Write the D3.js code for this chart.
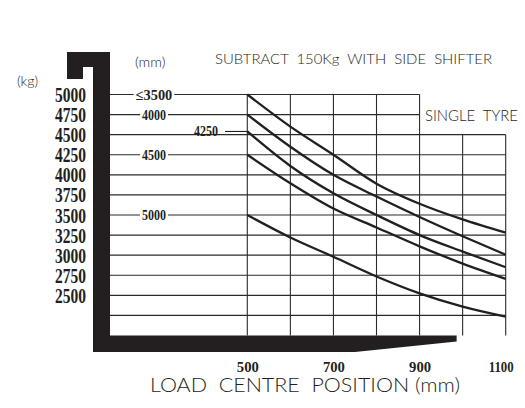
<!DOCTYPE html>
<html>
<head>
<meta charset="utf-8">
<script src="https://cdn.jsdelivr.net/npm/d3@7"></script>
<style>
body{margin:0;background:#fff;}
svg{display:block;}
.thin{font-family:Lato,"Open Sans",Roboto,sans-serif;font-weight:300;fill:#231f20;white-space:pre;}
.num{font-family:"Liberation Serif","DejaVu Serif",serif;font-weight:bold;fill:#231f20;}
</style>
</head>
<body>
<div id="chart"></div>
<script>
// load centre (mm) and rated capacity (kg) per mast height
var loadCentres = [500,600,700,800,900,1000,1100];
var mastLabels = ["≤3500","4000","4250","4500","5000"];
var cap3500 = [5000,4600,4250,3890,3640,3445,3280];
var cap4000 = [4750,4350,4000,3730,3475,3235,3005];
var cap4250 = [4540,4110,3770,3500,3250,3045,2850];
var cap4500 = [4250,3895,3580,3345,3110,2895,2705];
var cap5000 = [3500,3220,2980,2735,2525,2360,2235];

var xTickLabels = [500,700,900,1100];
var yTickLabels = [5000,4750,4500,4250,4000,3750,3500,3250,3000,2750,2500];
var gridRows = [2250,2500,2750,3000,3250,3500,3750,4000,4250,4500,4750,5000];
var gridCols = [500,600,700,800,900,1000,1100];

var width = 525, height = 408;
var plotLeft = 110;   // inner edge of fork upright
var stepMm = 900, stepKg = 4500;  // grid is stepped: right columns start lower
var ink = "#231f20";

var svg = d3.select("#chart").append("svg")
            .attr("width",width)
            .attr("height",height);

var x = d3.scaleLinear().domain([500,1100]).range([247.3,505.7]);
var y = d3.scaleLinear().domain([2000,5000]).range([335.5,94.5]);

/*fork shape*/
var barW = 17, baseH = 16.5, tipH = 6;
var forkTop = 52, hookLeft = 67, hookGap = 10, hookDrop = 27;
var tipX = x(1000) - 6, taperX = x(750);
var fork = d3.path();
fork.moveTo(hookLeft, forkTop);
fork.lineTo(plotLeft, forkTop);
fork.lineTo(plotLeft, y(2000));
fork.lineTo(tipX, y(2000));
fork.lineTo(tipX, y(2000) + tipH);
fork.lineTo(taperX, y(2000) + baseH);
fork.lineTo(plotLeft - barW, y(2000) + baseH);
fork.lineTo(plotLeft - barW, forkTop + 15);
fork.lineTo(plotLeft - barW - hookGap, forkTop + 15);
fork.lineTo(plotLeft - barW - hookGap, forkTop + hookDrop);
fork.lineTo(hookLeft, forkTop + hookDrop);
fork.closePath();
svg.append("path").attr("d",fork.toString()).attr("fill",ink);

/*grid*/
var grid_g = svg.append("g").attr("stroke","#2b2b2b").attr("stroke-width",1.1);
grid_g.selectAll("line.row")
      .data(gridRows)
      .enter().append("line")
      .attr("class","row")
      .attr("x1",plotLeft)
      .attr("x2",function(d){ return d > stepKg ? x(stepMm) : x(1100); })
      .attr("y1",function(d){ return y(d); })
      .attr("y2",function(d){ return y(d); });
grid_g.selectAll("line.col")
      .data(gridCols)
      .enter().append("line")
      .attr("class","col")
      .attr("x1",function(d){ return x(d); })
      .attr("x2",function(d){ return x(d); })
      .attr("y1",function(d){ return d > stepMm ? y(stepKg) : y(5000); })
      .attr("y2",y(2000));

/*curves*/
var series = [cap3500,cap4000,cap4250,cap4500,cap5000];
var line = d3.line()
             .x(function(d,i){ return x(loadCentres[i]); })
             .y(function(d){ return y(d); })
             .curve(d3.curveMonotoneX);
svg.append("g").selectAll("path")
   .data(series)
   .enter().append("path")
   .attr("d",function(d){ return line(d); })
   .attr("fill","none")
   .attr("stroke",ink)
   .attr("stroke-width",2.3);

/*mast labels*/
var labelX = 154;
series.forEach(function(s,i){
	var yy = y(s[0]);
	if(mastLabels[i] === "4250"){
		svg.append("line")
		   .attr("x1",225).attr("x2",x(500))
		   .attr("y1",yy).attr("y2",yy)
		   .attr("stroke",ink).attr("stroke-width",1.1);
		svg.append("text").attr("class","num")
		   .attr("x",206).attr("y",yy + 5)
		   .attr("text-anchor","middle")
		   .attr("font-size",14.5)
		   .attr("textLength",24).attr("lengthAdjust","spacingAndGlyphs")
		   .text(mastLabels[i]);
		return;
	}
	var w = mastLabels[i].length > 4 ? 36.6 : 24;
	svg.append("rect")
	   .attr("x",labelX - w/2 - 2).attr("y",yy - 3)
	   .attr("width",w + 4).attr("height",6)
	   .attr("fill","#fff");
	svg.append("text").attr("class","num")
	   .attr("x",labelX).attr("y",yy + 5)
	   .attr("text-anchor","middle")
	   .attr("font-size",14.5)
	   .attr("textLength",w).attr("lengthAdjust","spacingAndGlyphs")
	   .text(mastLabels[i]);
});

/*axes*/
var axis_y = d3.axisLeft(y).tickValues(yTickLabels).tickFormat(d3.format("d")).tickSize(0).tickPadding(24);
var gy = svg.append("g").attr("transform","translate(" + plotLeft + ",0)").call(axis_y);
gy.select(".domain").remove();
gy.selectAll("text")
  .attr("class","num")
  .attr("dy","0.35em")
  .attr("font-size",20)
  .attr("textLength",31).attr("lengthAdjust","spacingAndGlyphs");

var axis_x = d3.axisBottom(x).tickValues(xTickLabels).tickFormat(d3.format("d")).tickSize(0).tickPadding(0);
var gx = svg.append("g").attr("transform","translate(0,372)").call(axis_x);
gx.select(".domain").remove();
gx.selectAll("text")
  .attr("class","num")
  .attr("dy","0")
  .attr("font-size",15)
  .attr("transform",function(d){ return d === 1100 ? "translate(-5,0)" : null; })
  .attr("textLength",function(d){ return d === 1100 ? 25 : 22; })
  .attr("lengthAdjust","spacingAndGlyphs");

/*titles*/
svg.append("text").attr("class","thin").attr("x",17).attr("y",86)
   .attr("font-size",14).text("(kg)");
svg.append("text").attr("class","thin").attr("x",135).attr("y",67)
   .attr("font-size",14.5).text("(mm)");
svg.append("text").attr("class","thin").attr("x",215).attr("y",64)
   .attr("font-size",14.5)
   .attr("textLength",277).attr("lengthAdjust","spacingAndGlyphs")
   .text("SUBTRACT  150Kg  WITH  SIDE  SHIFTER");
svg.append("text").attr("class","thin").attr("x",425).attr("y",120.5)
   .attr("font-size",16)
   .attr("textLength",93).attr("lengthAdjust","spacingAndGlyphs")
   .text("SINGLE  TYRE");
svg.append("text").attr("class","thin").attr("x",150).attr("y",392)
   .attr("font-size",19.5)
   .attr("textLength",310).attr("lengthAdjust","spacingAndGlyphs")
   .text("LOAD  CENTRE  POSITION (mm)");
</script>
</body>
</html>
